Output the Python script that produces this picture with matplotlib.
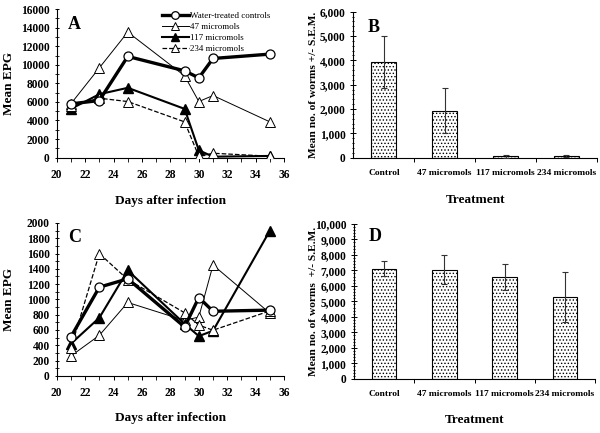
import matplotlib
matplotlib.use('Agg')
import matplotlib.pyplot as plt
from matplotlib.ticker import MultipleLocator, FuncFormatter

plt.rcParams['font.family'] = ['Liberation Serif', 'DejaVu Serif']
plt.rcParams['font.weight'] = 'bold'
plt.rcParams['hatch.linewidth'] = 0.6

# days sampled
days = [21, 23, 25, 29, 30, 31, 35]

# panel A - mean EPG
a_ctrl = [5790, 6150, 10900, 9350, 8590, 10680, 11150]
a_47 = [5800, 9670, 13520, 8810, 6040, 6690, 3850]
a_117 = [5250, 6830, 7520, 5250, 790, 100, 180]
a_234 = [5570, 6400, 6040, 3850, 140, 470, 150]

# panel C - mean EPG
c_ctrl = [510, 1160, 1270, 640, 1025, 845, 860]
c_47 = [260, 530, 960, 725, 770, 1450, 820]
c_117 = [420, 760, 1380, 680, 520, 590, 1900]
c_234 = [360, 1600, 1260, 825, 663, 597, 850]

# worm counts
treatments = ['Control', '47 micromols', '117 micromols', '234 micromols']
b_mean = [3930, 1930, 60, 60]
b_sem = [1050, 935, 60, 40]
d_mean = [7120, 7050, 6580, 5280]
d_sem = [510, 930, 860, 1620]

fig = plt.figure(figsize=(6, 4.33), dpi=100)
axA = fig.add_axes([0.0945, 0.636, 0.379, 0.343])
axB = fig.add_axes([0.589, 0.636, 0.4057, 0.337])
axC = fig.add_axes([0.0945, 0.132, 0.379, 0.353])
axD = fig.add_axes([0.59, 0.125, 0.4017, 0.358])


def line_panel(ax, ctrl, s47, s117, s234, ymax, ystep, yminor, letter, ly, xly):
    ax.plot(days, ctrl, '-o', color='black', lw=2.4, ms=6.5, mfc='white', mec='black', mew=0.9,
            label='Water-treated controls', zorder=4)
    ax.plot(days, s47, '-^', color='black', lw=0.7, ms=6.5, mfc='white', mec='black', mew=0.7,
            label='47 micromols', zorder=3)
    ax.plot(days, s117, '-^', color='black', lw=1.5, ms=6.5, mfc='black', mec='black',
            label='117 micromols', zorder=3)
    ax.plot(days, s234, '--^', color='black', lw=0.9, ms=6.5, mfc='white', mec='black', mew=0.7,
            label='234 micromols', zorder=3)
    ax.set_xlim(20, 36)
    ax.set_ylim(0, ymax)
    ax.xaxis.set_major_locator(MultipleLocator(2))
    ax.xaxis.set_minor_locator(MultipleLocator(1))
    ax.yaxis.set_major_locator(MultipleLocator(ystep))
    ax.yaxis.set_minor_locator(MultipleLocator(yminor))
    for s in ['top', 'right']:
        ax.spines[s].set_visible(False)
    ax.tick_params(axis='both', labelsize=8.3, length=3, width=0.7)
    ax.tick_params(axis='x', pad=5)
    ax.tick_params(axis='y', which='both', direction='inout')
    ax.tick_params(axis='y', which='minor', length=2.5)
    ax.tick_params(axis='x', which='minor', length=3)
    ax.set_xlabel('Days after infection', fontsize=9.5, fontweight='bold')
    ax.xaxis.set_label_coords(0.5, xly)
    ax.set_ylabel('Mean EPG', fontsize=9.5, fontweight='bold')
    ax.yaxis.set_label_coords(-0.183, 0.5)
    ax.text(0.05, ly, letter, transform=ax.transAxes, fontsize=13, fontweight='bold',
            va='center')


line_panel(axA, a_ctrl, a_47, a_117, a_234, 16000, 2000, 1000, 'A', 0.894, -0.255)
line_panel(axC, c_ctrl, c_47, c_117, c_234, 2000, 200, 100, 'C', 0.906, -0.237)

leg = axA.legend(loc='upper left', bbox_to_anchor=(0.445, 1.005), frameon=False,
                 prop={'size': 6.5, 'weight': 'normal'}, handlelength=3.0, handletextpad=0.15,
                 labelspacing=0.28, borderaxespad=0)
for h in leg.legend_handles:
    h.set_markersize(5.5)


def bar_panel(ax, means, sems, ymax, ystep, yminor, letter, ylabel, ly, xly, yly):
    x = list(range(len(treatments)))
    ax.bar(x, means, width=0.41, color='white', edgecolor='black', hatch='.....',
           linewidth=0.8, zorder=2)
    ax.errorbar(x, means, yerr=sems, fmt='none', ecolor='#333333', elinewidth=0.8,
                capsize=2, capthick=0.8, zorder=3)
    ax.set_xlim(-0.5, 3.5)
    ax.set_ylim(0, ymax)
    ax.set_xticks([0.5, 1.5, 2.5, 3.5])
    ax.set_xticklabels([])
    ax.set_xticks(x, minor=True)
    ax.set_xticklabels(treatments, minor=True)
    ax.tick_params(axis='x', which='major', length=3, width=0.7, direction='out')
    ax.tick_params(axis='x', which='minor', length=0, labelsize=6.8, pad=8)
    ax.yaxis.set_major_locator(MultipleLocator(ystep))
    ax.yaxis.set_minor_locator(MultipleLocator(yminor))
    ax.yaxis.set_major_formatter(FuncFormatter(lambda v, p: '{:,.0f}'.format(v)))
    ax.tick_params(axis='y', which='both', direction='inout', labelsize=8.3, width=0.7)
    ax.tick_params(axis='y', which='major', length=4)
    ax.tick_params(axis='y', which='minor', length=2)
    for s in ['top', 'right']:
        ax.spines[s].set_visible(False)
    ax.set_xlabel('Treatment', fontsize=9.5, fontweight='bold')
    ax.xaxis.set_label_coords(0.5, xly)
    ax.set_ylabel(ylabel, fontsize=8.2, fontweight='bold')
    ax.yaxis.set_label_coords(yly, 0.5)
    ax.text(0.06, ly, letter, transform=ax.transAxes, fontsize=13, fontweight='bold',
            va='center')


bar_panel(axB, b_mean, b_sem, 6000, 1000, 200, 'B', 'Mean no. of worms +/- S.E.M.',
          0.895, -0.249, -0.145)
bar_panel(axD, d_mean, d_sem, 10000, 1000, 200, 'D', 'Mean no. of worms  +/- S.E.M.',
          0.916, -0.229, -0.149)

fig.savefig('out.png', dpi=100)
